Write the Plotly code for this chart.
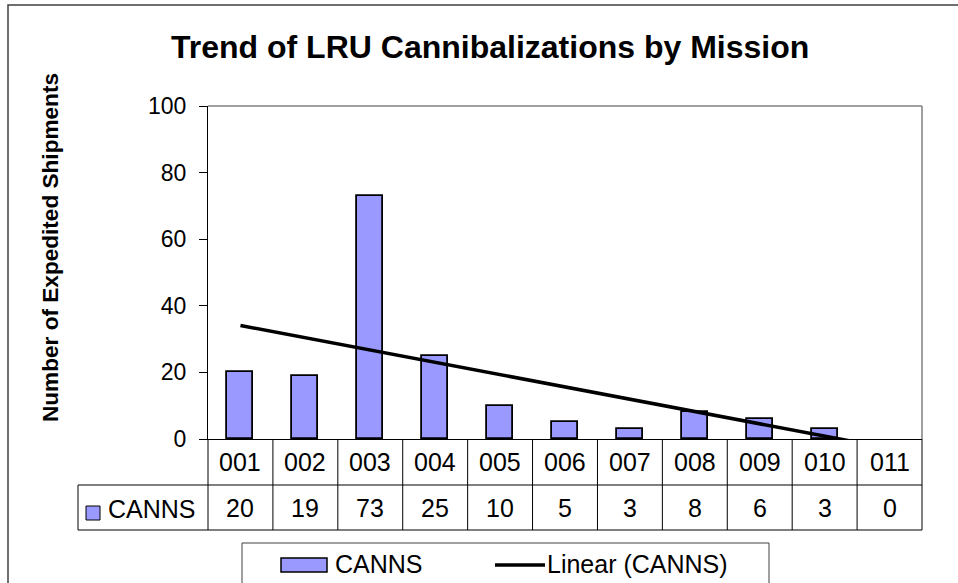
import numpy as np
import plotly.graph_objects as go

# ---- data ----
missions = ["001", "002", "003", "004", "005", "006", "007", "008", "009", "010", "011"]
canns = [20, 19, 73, 25, 10, 5, 3, 8, 6, 3, 0]
series_name = "CANNS"
trend_name = "Linear (CANNS)"
title_text = "Trend of LRU Cannibalizations by Mission"
ytitle_text = "Number of Expedited Shipments"
y_ticks = [0, 20, 40, 60, 80, 100]

# ---- geometry (pixels) ----
W, H = 958, 583
L, R, T, B = 208, 922, 106, 439
FONT = "Arial, Liberation Sans, sans-serif"
BAR_COLOR = "#9999FF"


def px(x):
    return (x - L) / (R - L)


def py(y):
    return (B - y) / (B - T)


xs = np.arange(1, len(missions) + 1)
slope, intercept = np.polyfit(xs, np.array(canns, dtype=float), 1)
trend = slope * xs + intercept

# zero-height bars are not outlined (as in the original)
outline_w = [1.8 if v > 0 else 0 for v in canns]

fig = go.Figure()
fig.add_trace(go.Bar(
    x=xs, y=canns, name=series_name, width=0.4,
    marker=dict(color=BAR_COLOR, line=dict(color="black", width=outline_w)),
    showlegend=False,
))
fig.add_trace(go.Scatter(
    x=xs, y=trend, name=trend_name, mode="lines",
    line=dict(color="black", width=3.5), showlegend=False,
))

shapes = []
# outer chart frame
shapes.append(dict(type="rect", xref="paper", yref="paper",
                   x0=px(8), x1=px(990), y0=py(5), y1=py(620),
                   line=dict(color="#404040", width=1.5), layer="below"))
# plot area border (top / right, gray)
shapes.append(dict(type="line", xref="paper", yref="paper", x0=0, x1=1, y0=1, y1=1,
                   line=dict(color="#808080", width=1.5)))
shapes.append(dict(type="line", xref="paper", yref="paper", x0=1, x1=1, y0=0, y1=1,
                   line=dict(color="#808080", width=1.5)))

# data table
n = len(missions)
tl = dict(color="black", width=1)
for yy in (485, 530):
    shapes.append(dict(type="line", xref="paper", yref="paper",
                       x0=px(78), x1=1, y0=py(yy), y1=py(yy), line=tl))
shapes.append(dict(type="line", xref="paper", yref="paper",
                   x0=px(78), x1=px(78), y0=py(485), y1=py(530), line=tl))
for k in range(n + 1):
    shapes.append(dict(type="line", xref="paper", yref="paper",
                       x0=k / n, x1=k / n, y0=0, y1=py(530), line=tl))
# table legend key
shapes.append(dict(type="rect", xref="paper", yref="paper",
                   x0=px(86), x1=px(100), y0=py(506), y1=py(520),
                   fillcolor=BAR_COLOR, line=dict(color="black", width=1)))

# legend box
shapes.append(dict(type="rect", xref="paper", yref="paper",
                   x0=px(242), x1=px(769), y0=py(543), y1=py(620),
                   line=dict(color="#404040", width=1), fillcolor="white"))
shapes.append(dict(type="rect", xref="paper", yref="paper",
                   x0=px(281), x1=px(327), y0=py(558), y1=py(572),
                   fillcolor=BAR_COLOR, line=dict(color="black", width=1.5)))
shapes.append(dict(type="line", xref="paper", yref="paper",
                   x0=px(495), x1=px(545), y0=py(565), y1=py(565),
                   line=dict(color="black", width=3.5)))

annotations = []
tf = dict(family=FONT, size=25, color="black")
for i, (m, v) in enumerate(zip(missions, canns)):
    annotations.append(dict(x=xs[i], xref="x", y=py(462), yref="paper", text=m,
                            showarrow=False, font=tf, xanchor="center", yanchor="middle"))
    annotations.append(dict(x=xs[i], xref="x", y=py(508), yref="paper", text=str(v),
                            showarrow=False, font=tf, xanchor="center", yanchor="middle"))
annotations.append(dict(x=px(106), xref="paper", y=py(509), yref="paper", text=series_name,
                        showarrow=False, font=tf, xanchor="left", yanchor="middle"))
annotations.append(dict(x=px(333), xref="paper", y=py(564), yref="paper", text=series_name,
                        showarrow=False, font=tf, xanchor="left", yanchor="middle"))
annotations.append(dict(x=px(545), xref="paper", y=py(564), yref="paper", text=trend_name,
                        showarrow=False, font=tf, xanchor="left", yanchor="middle"))
# title
annotations.append(dict(x=px(490), xref="paper", y=py(47), yref="paper", text=title_text,
                        showarrow=False, xanchor="center", yanchor="middle",
                        font=dict(family=FONT, size=32, color="black", weight="bold")))
# y axis title
annotations.append(dict(x=px(50), xref="paper", y=py(248), yref="paper", text=ytitle_text,
                        showarrow=False, xanchor="center", yanchor="middle", textangle=-90,
                        font=dict(family=FONT, size=22.6, color="black", weight="bold")))

fig.update_layout(
    width=W, height=H,
    margin=dict(l=L, r=W - R, t=T, b=H - B, pad=0),
    paper_bgcolor="white", plot_bgcolor="white",
    shapes=shapes, annotations=annotations,
    showlegend=False,
    font=dict(family=FONT, color="black"),
    bargap=0,
)
fig.update_xaxes(range=[0.5, n + 0.5], showticklabels=False, ticks="",
                 showgrid=False, zeroline=False, showline=True,
                 linecolor="black", linewidth=1, fixedrange=True)
fig.update_yaxes(range=[0, 100], tickvals=y_ticks, ticks="outside", ticklen=8,
                 tickcolor="black", tickwidth=1, showgrid=False, zeroline=False,
                 showline=True, linecolor="black", linewidth=1,
                 tickfont=dict(family=FONT, size=23, color="black"),
                 ticklabelstandoff=8, fixedrange=True)

fig.write_html("out.html", config={"displayModeBar": False},
               post_script="document.body.style.margin='0';document.body.style.overflow='hidden';")
